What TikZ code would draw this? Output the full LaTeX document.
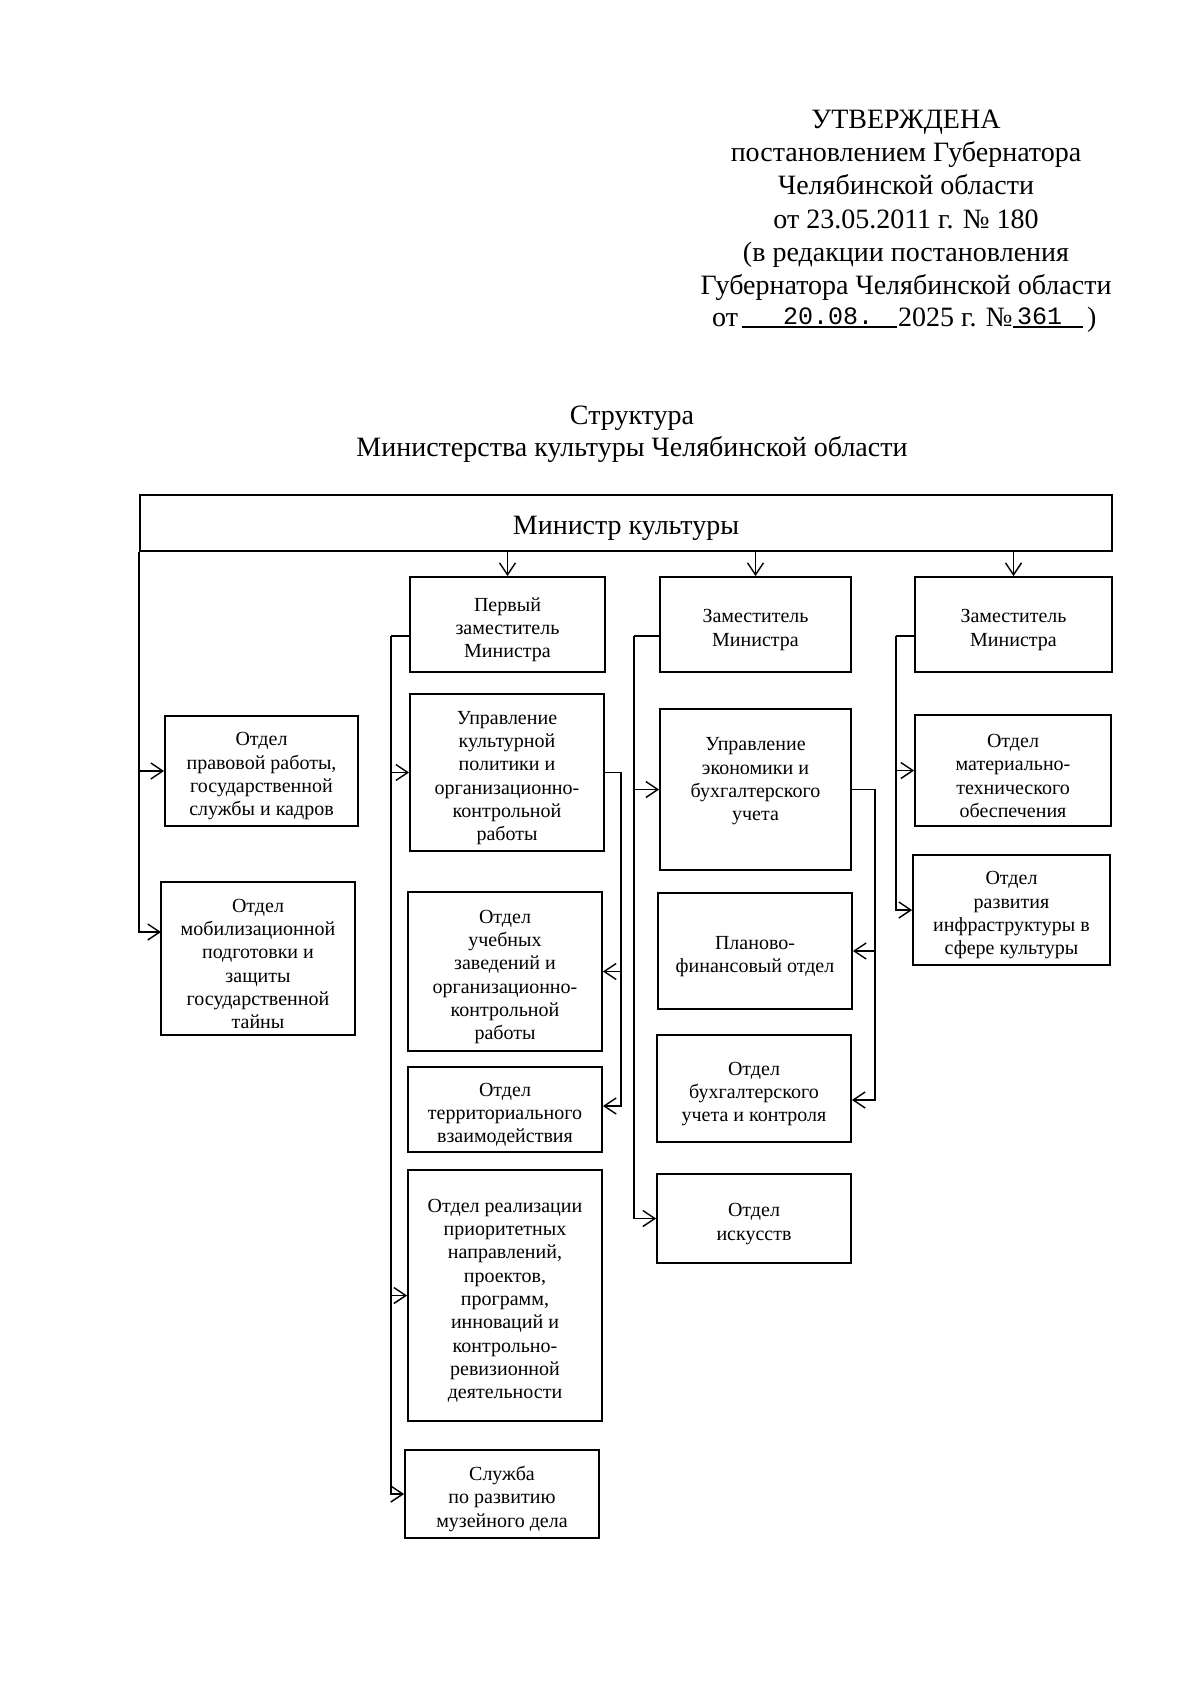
\documentclass[tikz,border=0pt]{standalone}
\usepackage{fontspec}
\setmainfont{Liberation Serif}
\newfontfamily\monof{Liberation Mono}
\usetikzlibrary{arrows.meta}
\newcommand{\bxfont}{\fontsize{20}{23.3}\selectfont}
\newcommand{\hdfont}{\fontsize{28}{33}\selectfont}
\newcommand{\bst}{\rule{0pt}{24pt}}
\begin{document}
\begin{tikzpicture}[x=1pt,y=-1pt,
  box/.style={draw, line width=1.8pt, inner sep=0pt, align=center, font=\bxfont},
  txt/.style={inner sep=0pt, align=center, font=\bxfont},
  conn/.style={line width=1.4pt},
  arr/.style={conn, -{Straight Barb[length=12pt,width=16pt]}},
  hdr/.style={font=\hdfont, inner sep=0pt, anchor=base}]
\useasboundingbox[fill=white] (0,0) rectangle (1200,1698);

% header
\node[hdr] (h1) at (906,128) {УТВЕРЖДЕНА};
\node[hdr] (h2) at (906,161) {постановлением Губернатора};
\node[hdr] (h3) at (906,194) {Челябинской области};
\node[hdr] (h4) at (906,228) {от 23.05.2011 г. № 180};
\node[hdr] (h5) at (906,261) {(в редакции постановления};
\node[hdr] (h6) at (906,294) {Губернатора Челябинской области};
\node[hdr, anchor=base west] (h7a) at (712,326) {от};
\draw[line width=1.2pt] (742,327) -- (897,327);
\node[inner sep=0pt, anchor=base west, font=\monof\fontsize{25}{30}\selectfont] (h7b) at (783,324) {20.08.};
\node[hdr, anchor=base west] (h7c) at (898,326) {2025 г. №};
\draw[line width=1.2pt] (1013,327) -- (1083,327);
\node[inner sep=0pt, anchor=base west, font=\monof\fontsize{25}{30}\selectfont] (h7d) at (1017,324) {361};
\node[hdr, anchor=base west] (h7e) at (1087,326) {)};

% title
\node[hdr] (t1) at (632,424) {Структура};
\node[hdr] (t2) at (632,456) {Министерства культуры Челябинской области};

% boxes
\node[box, font=\hdfont, minimum width=972pt, minimum height=56pt] (min) at (626,523) {\rule{0pt}{30pt}Министр культуры};
\node[box, minimum width=195pt, minimum height=95pt] (perv) at (507.5,624.5) {\bst Первый\\заместитель\\Министра};
\node[box, minimum width=191pt, minimum height=95pt] (zam1) at (755.5,624.5) {\bst Заместитель\\Министра};
\node[box, minimum width=197pt, minimum height=95pt] (zam2) at (1013.5,624.5) {\bst Заместитель\\Министра};

\node[box, minimum width=193pt, minimum height=110pt] (prav) at (261.5,771) {\bst Отдел\\правовой работы,\\государственной\\службы и кадров};
\node[box, minimum width=194pt, minimum height=153pt] (mob) at (258,958.5) {\bst Отдел\\мобилизационной\\подготовки и\\защиты\\государственной\\тайны};

\node[box, minimum width=194pt, minimum height=157pt] (ukp) at (507,772.5) {\bst Управление\\культурной\\политики и\\организационно-\\контрольной\\работы};
\node[box, minimum width=194pt, minimum height=159pt] (ucheb) at (505,971.5) {\bst Отдел\\учебных\\заведений и\\организационно-\\контрольной\\работы};
\node[box, minimum width=194pt, minimum height=85pt] (terr) at (505,1109.5) {\bst Отдел\\территориального\\взаимодействия};
\node[box, minimum width=194pt, minimum height=251pt] (real) at (505,1295.5) {\bst Отдел реализации\\приоритетных\\направлений,\\проектов,\\программ,\\инноваций и\\контрольно-\\ревизионной\\деятельности};
\node[box, minimum width=194pt, minimum height=88pt] (sluzh) at (502,1494) {\bst Служба\\по развитию\\музейного дела};

\node[box, minimum width=191pt, minimum height=161pt] (uek) at (755.5,789.5) {};
\node[txt] (uekt) at ([yshift=8pt]uek.center) {Управление\\экономики и\\бухгалтерского\\учета};
\node[box, minimum width=194pt, minimum height=116pt] (plan) at (755,951) {\bst Планово-\\финансовый отдел};
\node[box, minimum width=194pt, minimum height=107pt] (buh) at (754,1088.5) {\bst Отдел\\бухгалтерского\\учета и контроля};
\node[box, minimum width=194pt, minimum height=89pt] (isk) at (754,1218.5) {\bst Отдел\\искусств};

\node[box, minimum width=196pt, minimum height=111pt] (mat) at (1013,770.5) {\bst Отдел\\материально-\\технического\\обеспечения};
\node[box, minimum width=197pt, minimum height=110pt] (razv) at (1011.5,910) {\bst Отдел\\развития\\инфраструктуры в\\сфере культуры};

% connectors from minister
\coordinate (mobin) at (161,932);
\draw[arr] (min.south west) |- (mobin);
\draw[arr] (min.south west |- prav.west) -- (prav.west);
\draw[arr] (min.south -| perv.north) -- (perv.north);
\draw[arr] (min.south -| zam1.north) -- (zam1.north);
\draw[arr] (min.south -| zam2.north) -- (zam2.north);

% first deputy branch
\coordinate (p1) at (391,636);
\draw[conn] (perv.west |- p1) -- (p1);
\draw[arr] (p1) |- (sluzh.west);
\draw[arr] (p1 |- ukp.west) -- (ukp.west);
\draw[arr] (p1 |- real.west) -- (real.west);

\coordinate (u1) at (621,1106);
\draw[arr] (ukp.east) -| (u1) -- (terr.east |- u1);
\draw[arr] (u1 |- ucheb.east) -- (ucheb.east);

% deputy 1 branch
\coordinate (z1) at (634,636);
\draw[conn] (zam1.west |- z1) -- (z1);
\draw[arr] (z1) |- (isk.west);
\draw[arr] (z1 |- uek.west) -- (uek.west);

\coordinate (e1) at (875,1100);
\draw[arr] (uek.east) -| (e1) -- (buh.east |- e1);
\draw[arr] (e1 |- plan.east) -- (plan.east);

% deputy 2 branch
\coordinate (z2) at (896,636);
\draw[conn] (zam2.west |- z2) -- (z2);
\draw[arr] (z2) |- (razv.west);
\draw[arr] (z2 |- mat.west) -- (mat.west);
\end{tikzpicture}
\end{document}
